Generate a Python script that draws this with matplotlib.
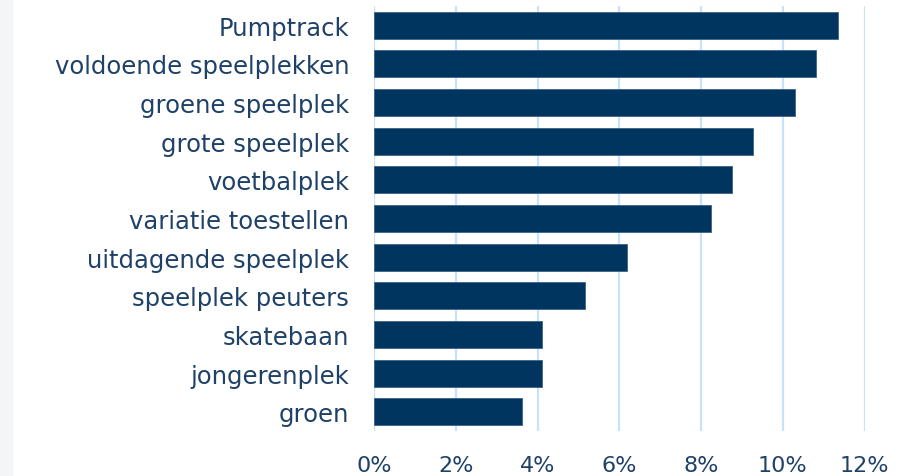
import numpy as np
import matplotlib.pyplot as plt
from matplotlib.patches import Rectangle
from matplotlib.ticker import FuncFormatter

# Data (share of answers, %)
categories = ['Pumptrack', 'voldoende speelplekken', 'groene speelplek', 'grote speelplek',
              'voetbalplek', 'variatie toestellen', 'uitdagende speelplek', 'speelplek peuters',
              'skatebaan', 'jongerenplek', 'groen']
values = [11.34, 10.82, 10.31, 9.28, 8.76, 8.25, 6.19, 5.15, 4.12, 4.12, 3.61]

BAR_COLOR = '#003560'
TEXT_COLOR = '#1f4168'
GRID_COLOR = '#c9e2fb'

fig = plt.figure(figsize=(9.21, 4.77), dpi=100)
fig.patches.append(Rectangle((0, 0), 12 / 921, 1, transform=fig.transFigure,
                             color='#f4f5f7', zorder=0))
ax = fig.add_axes([374 / 921, 1 - 432 / 477, (864.5 - 374) / 921, (432 - 7) / 477])

y = np.arange(len(categories))
ax.barh(y, values, height=0.7, color=BAR_COLOR, edgecolor='#3d6289', linewidth=0.6, zorder=3)

ax.set_xlim(0, 12)
ax.set_ylim(len(categories) - 0.5, -0.5)
ax.set_xticks(np.arange(0, 13, 2))
ax.xaxis.set_major_formatter(FuncFormatter(lambda v, p: f"{v:.0f}%"))
ax.set_yticks(y)
ax.set_yticklabels(categories)

ax.grid(axis='x', color=GRID_COLOR, linewidth=1.6, zorder=0)
for s in ax.spines.values():
    s.set_visible(False)
ax.tick_params(axis='both', length=0, labelcolor=TEXT_COLOR)
ax.tick_params(axis='x', pad=17, labelsize=16)
ax.tick_params(axis='y', pad=18, labelsize=17.5)

fig.savefig('out.png', dpi=100)
